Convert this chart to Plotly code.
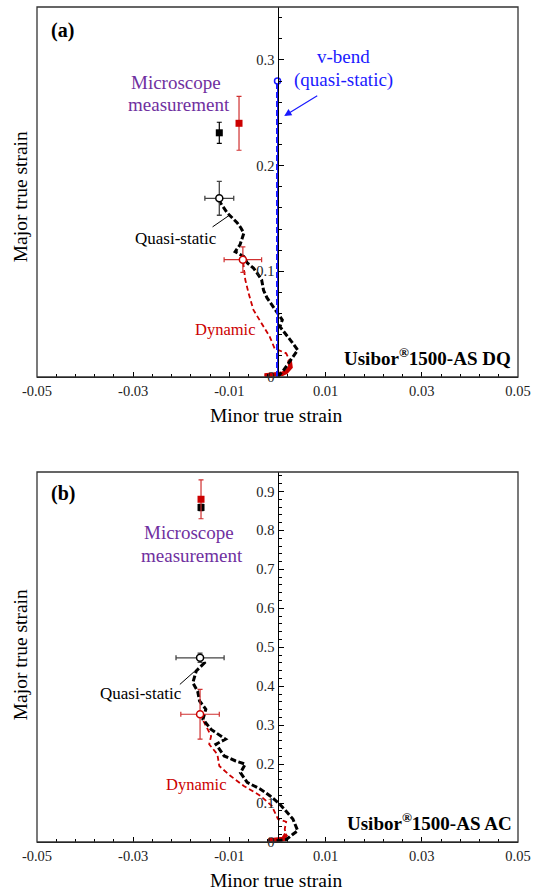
import plotly.graph_objects as go

# ---------------- data: panel (a) Usibor 1500-AS DQ ----------------
qs_a_x = [0, 0.0012, 0.0025, 0.0036, 0.0042, 0.0030, 0.0018, 0.0005, 0.0010, 0.0001, -0.0012, -0.0022,
          -0.0029, -0.0033, -0.0042, -0.0050, -0.0063, -0.0070, -0.0088, -0.0078, -0.0070, -0.0076,
          -0.0084, -0.0104, -0.0119, -0.0121]
qs_a_y = [0, 0.006, 0.0145, 0.021, 0.0255, 0.033, 0.040, 0.0476, 0.054, 0.060, 0.068, 0.075,
          0.082, 0.092, 0.098, 0.103, 0.108, 0.114, 0.1185, 0.125, 0.136, 0.141,
          0.146, 0.155, 0.165, 0.169]
dyn_a_x = [-0.0027, -0.0012, 0, 0.0010, 0.0018, 0.0027, 0.0025, 0.0018, -0.0006, -0.0016, -0.0029,
           -0.0050, -0.0060, -0.0067, -0.0070, -0.0072]
dyn_a_y = [0.0015, 0.0018, 0.002, 0.003, 0.0047, 0.0095, 0.016, 0.0224, 0.027, 0.038, 0.0476,
           0.0634, 0.079, 0.092, 0.103, 0.111]
vbend_x = [0.0, 0.0]
vbend_y = [0.0, 0.28]
# end points of limit strain (x, y, err_x, err_y)
qs_a_end = (-0.0121, 0.169, 0.003, 0.016)
dyn_a_end = (-0.0072, 0.111, 0.0039, 0.012)
# microscope measurement (x, y, err_y)
mic_a_black = (-0.0121, 0.231, 0.010)
mic_a_red = (-0.0080, 0.240, 0.0255)

# ---------------- data: panel (b) Usibor 1500-AS AC ----------------
qs_b_x = [-0.0002, 0.0018, 0.0032, 0.0042, 0.0032, 0.0005, -0.0016, -0.0036, -0.0063, -0.0077,
          -0.0067, -0.0087, -0.0111, -0.0128, -0.0108, -0.0138, -0.0155, -0.0149, -0.0162, -0.0166,
          -0.0176, -0.0169, -0.0152, -0.0161]
qs_b_y = [0.0033, 0.006, 0.020, 0.029, 0.059, 0.097, 0.119, 0.136, 0.153, 0.178,
          0.200, 0.208, 0.221, 0.251, 0.264, 0.289, 0.315, 0.341, 0.362, 0.387,
          0.409, 0.439, 0.460, 0.473]
dyn_b_x = [-0.0019, 0.0012, 0.0018, 0.0015, 0.0018, 0.0001, -0.0002, -0.0012, -0.0036, -0.0070,
           -0.0098, -0.0121, -0.0125, -0.0142, -0.0138, -0.0152, -0.0161]
dyn_b_y = [0.0040, 0.0077, 0.020, 0.033, 0.052, 0.059, 0.067, 0.093, 0.119, 0.144,
           0.170, 0.195, 0.225, 0.251, 0.272, 0.307, 0.328]
qs_b_end = (-0.0161, 0.473, 0.005, 0.012)
dyn_b_end = (-0.0161, 0.328, 0.004, 0.064)
mic_b_black = (-0.0159, 0.859, 0.008)
mic_b_red = (-0.0159, 0.880, 0.050)

# ---------------- axes ticks ----------------
x_tickvals = [-0.05, -0.03, -0.01, 0.01, 0.03, 0.05]
x_ticktext = ["-0.05", "-0.03", "-0.01", "0.01", "0.03", "0.05"]
ya_tickvals = [0, 0.1, 0.2, 0.3]
ya_ticktext = ["0", "0.1", "0.2", "0.3"]
yb_tickvals = [0, 0.1, 0.2, 0.3, 0.4, 0.5, 0.6, 0.7, 0.8, 0.9]
yb_ticktext = ["0", "0.1", "0.2", "0.3", "0.4", "0.5", "0.6", "0.7", "0.8", "0.9"]

FONT = "Liberation Serif, Tinos, DejaVu Serif, serif"
BLACK = "#000000"
RED = "#CC0000"
BLUE = "#1a1aff"
PURPLE = "#7030A0"

fig = go.Figure()


def add_panel(xa, ya, qs_x, qs_y, dyn_x, dyn_y, qs_end, dyn_end, mic_black, mic_red, n_thick_red, vb=False):
    # dynamic (red dashed)
    fig.add_trace(go.Scatter(x=dyn_x, y=dyn_y, mode="lines", xaxis=xa, yaxis=ya,
                             line=dict(color=RED, width=1.8, dash="5px,3px"), showlegend=False))
    fig.add_trace(go.Scatter(x=dyn_x[:n_thick_red], y=dyn_y[:n_thick_red], mode="lines", xaxis=xa, yaxis=ya,
                             line=dict(color=RED, width=4.5), showlegend=False))
    # quasi-static (black thick dashes)
    fig.add_trace(go.Scatter(x=qs_x, y=qs_y, mode="lines", xaxis=xa, yaxis=ya,
                             line=dict(color=BLACK, width=3, dash="6px,2.5px"), showlegend=False))
    if vb:
        fig.add_trace(go.Scatter(x=vbend_x, y=vbend_y, mode="lines", xaxis=xa, yaxis=ya,
                                 line=dict(color=BLUE, width=1), showlegend=False))
        fig.add_trace(go.Scatter(x=vbend_x, y=vbend_y, mode="lines", xaxis=xa, yaxis=ya,
                                 line=dict(color=BLUE, width=3, dash="6px,3px"), showlegend=False))
        fig.add_trace(go.Scatter(x=vbend_x[-1:], y=vbend_y[-1:], mode="markers", xaxis=xa, yaxis=ya,
                                 marker=dict(symbol="circle", size=6, color="white",
                                             line=dict(color=BLUE, width=1.5)), showlegend=False))
    # limit end points with error bars
    fig.add_trace(go.Scatter(x=[dyn_end[0]], y=[dyn_end[1]], mode="markers", xaxis=xa, yaxis=ya,
                             marker=dict(symbol="circle", size=7, color="white", line=dict(color=RED, width=1.5)),
                             error_x=dict(type="constant", value=dyn_end[2], color="#d03030", thickness=1.2, width=2.5),
                             error_y=dict(type="constant", value=dyn_end[3], color="#d03030", thickness=1.2, width=2.5),
                             showlegend=False))
    fig.add_trace(go.Scatter(x=[qs_end[0]], y=[qs_end[1]], mode="markers", xaxis=xa, yaxis=ya,
                             marker=dict(symbol="circle", size=7, color="white", line=dict(color=BLACK, width=1.5)),
                             error_x=dict(type="constant", value=qs_end[2], color="#444444", thickness=1.3, width=2.5),
                             error_y=dict(type="constant", value=qs_end[3], color="#444444", thickness=1.3, width=2.5),
                             showlegend=False))
    # microscope measurements
    fig.add_trace(go.Scatter(x=[mic_black[0]], y=[mic_black[1]], mode="markers", xaxis=xa, yaxis=ya,
                             marker=dict(symbol="square", size=7, color=BLACK),
                             error_y=dict(type="constant", value=mic_black[2], color=BLACK, thickness=1.2, width=2.5),
                             showlegend=False))
    fig.add_trace(go.Scatter(x=[mic_red[0]], y=[mic_red[1]], mode="markers", xaxis=xa, yaxis=ya,
                             marker=dict(symbol="square", size=7, color=RED),
                             error_y=dict(type="constant", value=mic_red[2], color="#d03030", thickness=1.2, width=2.5),
                             showlegend=False))


add_panel("x", "y", qs_a_x, qs_a_y, dyn_a_x, dyn_a_y, qs_a_end, dyn_a_end, mic_a_black, mic_a_red, 7, vb=True)
add_panel("x2", "y2", qs_b_x, qs_b_y, dyn_b_x, dyn_b_y, qs_b_end, dyn_b_end, mic_b_black, mic_b_red, 3)

W, H = 538, 890
ML, MR, MT, MB = 37, 12, 7, 48
ph = H - MT - MB
dom_a = [(842 - 377) / ph, 1.0]
dom_b = [0.0, (842 - 472) / ph]

tickfont = dict(family=FONT, size=14.5, color="#222222")

xcommon = dict(range=[-0.05, 0.05], tickmode="array", tickvals=x_tickvals, ticktext=x_ticktext,
               ticks="inside", ticklen=5, tickwidth=1, tickcolor=BLACK, showline=True, linecolor=BLACK,
               linewidth=1.3, showgrid=False, zeroline=False, tickfont=tickfont, ticklabeloverflow="allow",
               minor=dict(tickmode="linear", tick0=-0.05, dtick=0.004, ticks="inside", ticklen=3,
                          tickcolor=BLACK, showgrid=False))
ycommon = dict(tickmode="array", ticks="inside", ticklen=5, tickwidth=1, tickcolor=BLACK, showline=True,
               linecolor=BLACK, linewidth=1.3, showgrid=False, zeroline=False, tickfont=tickfont,
               anchor="free", position=0.5, side="left",
               minor=dict(tickmode="linear", tick0=0, dtick=0.02, ticks="inside", ticklen=3,
                          tickcolor=BLACK, showgrid=False))

fig.update_layout(
    width=W, height=H, margin=dict(l=ML, r=MR, t=MT, b=MB),
    paper_bgcolor="white", plot_bgcolor="white",
    font=dict(family=FONT, color=BLACK),
    xaxis=dict(xcommon, domain=[0, 1], anchor="y"),
    xaxis2=dict(xcommon, domain=[0, 1], anchor="y2"),
    yaxis=dict(ycommon, domain=dom_a, range=[0, 0.35], tickvals=ya_tickvals, ticktext=ya_ticktext),
    yaxis2=dict(ycommon, domain=dom_b, range=[0, 0.95], tickvals=yb_tickvals, ticktext=yb_ticktext),
)

# frames
for xr, yr in (("x domain", "y domain"), ("x2 domain", "y2 domain")):
    fig.add_shape(type="rect", xref=xr, yref=yr, x0=0, x1=1, y0=0, y1=1,
                  line=dict(color="#333333", width=1.3), layer="above")

ann = []


def txt(xr, yr, x, y, text, size, color=BLACK, **kw):
    ann.append(dict(xref=xr, yref=yr, x=x, y=y, text=text, showarrow=False,
                    font=dict(family=FONT, size=size, color=color), xanchor="center", yanchor="middle", **kw))


# panel (a)
txt("x", "y", -0.0446, 0.328, "<b>(a)</b>", 20)
txt("x", "y", -0.0212, 0.279, "Microscope", 19, PURPLE)
txt("x", "y", -0.0204, 0.258, "measurement", 19, PURPLE)
txt("x", "y", 0.0137, 0.303, "v-bend", 19, BLUE)
txt("x", "y", 0.0137, 0.281, "(quasi-static)", 19, BLUE)
txt("x", "y", -0.0211, 0.1306, "Quasi-static", 17)
txt("x", "y", -0.0110, 0.0445, "Dynamic", 16.5, RED)
txt("x", "y", 0.0312, 0.0189, "<b>Usibor<sup>®</sup>1500-AS DQ</b>", 19)
ann.append(dict(xref="x", yref="y", x=0.0014, y=0.247, ax=36, ay=-22, text=" ", showarrow=True,
                arrowhead=2, arrowsize=1.2, arrowwidth=1.2, arrowcolor=BLUE, standoff=0,
                font=dict(family=FONT, size=10)))
fig.add_shape(type="line", xref="x", yref="y", x0=-0.0135, y0=0.142, x1=-0.0100, y1=0.153,
              line=dict(color=BLACK, width=1))

# panel (b)
txt("x2", "y2", -0.0446, 0.896, "<b>(b)</b>", 20)
txt("x2", "y2", -0.0184, 0.794, "Microscope", 19, PURPLE)
txt("x2", "y2", -0.0178, 0.735, "measurement", 19, PURPLE)
txt("x2", "y2", -0.0284, 0.382, "Quasi-static", 17)
txt("x2", "y2", -0.0170, 0.1485, "Dynamic", 16.5, RED)
txt("x2", "y2", 0.0316, 0.0512, "<b>Usibor<sup>®</sup>1500-AS AC</b>", 19)
fig.add_shape(type="line", xref="x2", yref="y2", x0=-0.0203, y0=0.4046, x1=-0.0172, y1=0.4387,
              line=dict(color=BLACK, width=1))

# axis titles
pw = W - ML - MR
txt("paper", "paper", (20 - ML) / pw, (842 - 197) / ph, "Major true strain", 19.5, textangle=-90)
txt("paper", "paper", (20 - ML) / pw, (842 - 655) / ph, "Major true strain", 19.5, textangle=-90)
txt("paper", "paper", (280 - ML) / pw, (842 - 415) / ph, "Minor true strain", 19.5)
txt("paper", "paper", (280 - ML) / pw, (842 - 880) / ph, "Minor true strain", 19.5)

fig.update_layout(annotations=ann)
fig.write_html("out.html")
